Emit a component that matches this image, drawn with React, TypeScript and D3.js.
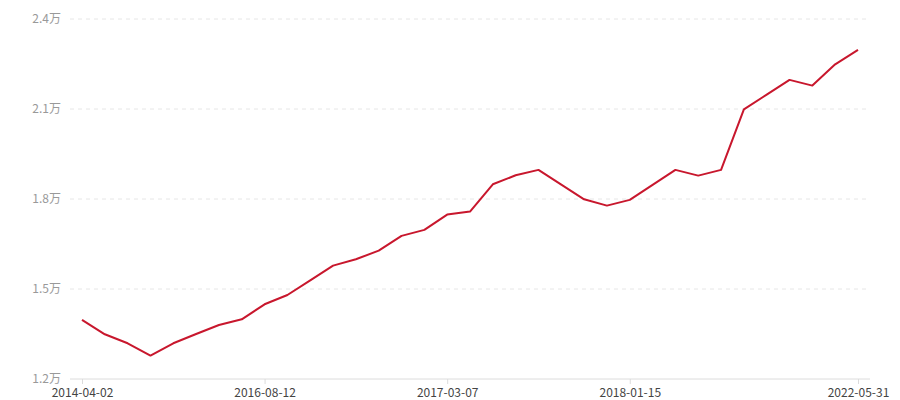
import React, { useEffect, useRef } from 'react';
import * as d3 from 'd3';

const dates = [
  '2014-04-02', '2014-07-15', '2014-10-20', '2015-01-16', '2015-05-08', '2015-08-21', '2015-11-30', '2016-03-11',
  '2016-08-12', '2016-09-09', '2016-10-14', '2016-11-11', '2016-12-02', '2016-12-23', '2017-01-13', '2017-02-10',
  '2017-03-07', '2017-04-11', '2017-05-19', '2017-06-23', '2017-07-28', '2017-09-01', '2017-10-20', '2017-11-24',
  '2018-01-15', '2018-05-18', '2018-10-12', '2019-03-08', '2019-08-02', '2020-01-10', '2020-06-05', '2020-11-13',
  '2021-04-09', '2021-10-15', '2022-05-31',
];

const values = [
  13970, 13490, 13190, 12780, 13190, 13500, 13800, 13990,
  14490, 14800, 15290, 15780, 15990, 16280, 16770, 16970,
  17480, 17580, 18490, 18790, 18970, 18480, 17990, 17780,
  17970, 18470, 18970, 18780, 18970, 20990, 21480, 21970,
  21780, 22490, 22970,
];

const xTickLabels = ['2014-04-02', '2016-08-12', '2017-03-07', '2018-01-15', '2022-05-31'];
const yTicks = [12000, 15000, 18000, 21000, 24000];

const W = 900;
const H = 400;

export default function App() {
  const ref = useRef<SVGSVGElement>(null);

  useEffect(() => {
    const svg = d3.select(ref.current);
    svg.selectAll('*').remove();
    const font = '"Noto Sans CJK SC", "Noto Sans", sans-serif';

    const x = d3.scalePoint<string>().domain(dates).range([82, 858]);
    const y = d3.scaleLinear().domain([12000, 24000]).range([379, 19]);

    // grid
    svg.append('g')
      .selectAll('line')
      .data(yTicks.slice(1))
      .enter()
      .append('line')
      .attr('x1', 70)
      .attr('x2', 870)
      .attr('y1', d => y(d))
      .attr('y2', d => y(d))
      .attr('stroke', '#e6e6e6')
      .attr('stroke-dasharray', '4,4');

    // y labels
    svg.append('g')
      .selectAll('text')
      .data(yTicks)
      .enter()
      .append('text')
      .attr('x', 61)
      .attr('y', d => y(d))
      .attr('dy', '0.35em')
      .attr('text-anchor', 'end')
      .attr('font-family', font)
      .attr('font-size', 12)
      .attr('fill', '#999')
      .text(d => (d / 10000).toFixed(1) + '万');

    // x axis
    const xAxis = d3.axisBottom(x)
      .tickValues(xTickLabels)
      .tickSize(5)
      .tickPadding(4);
    const gx = svg.append('g')
      .attr('transform', `translate(0,${y(12000)})`)
      .call(xAxis);
    gx.select('.domain').remove();
    gx.insert('line', ':first-child')
      .attr('x1', 70)
      .attr('x2', 870)
      .attr('stroke', '#dcdcdc');
    gx.selectAll('.tick line').attr('stroke', '#dcdcdc');
    gx.selectAll('.tick text')
      .attr('font-family', font)
      .attr('font-size', 12)
      .attr('fill', '#444');

    // line
    const line = d3.line<number>()
      .x((d, i) => x(dates[i]) as number)
      .y(d => y(d));
    svg.append('path')
      .datum(values)
      .attr('d', line)
      .attr('fill', 'none')
      .attr('stroke', '#c8172d')
      .attr('stroke-width', 2)
      .attr('stroke-linejoin', 'round');
  }, []);

  return (
    <svg
      ref={ref}
      width={W}
      height={H}
      style={{ position: 'absolute', left: 0, top: 0, background: '#fff' }}
    />
  );
}
